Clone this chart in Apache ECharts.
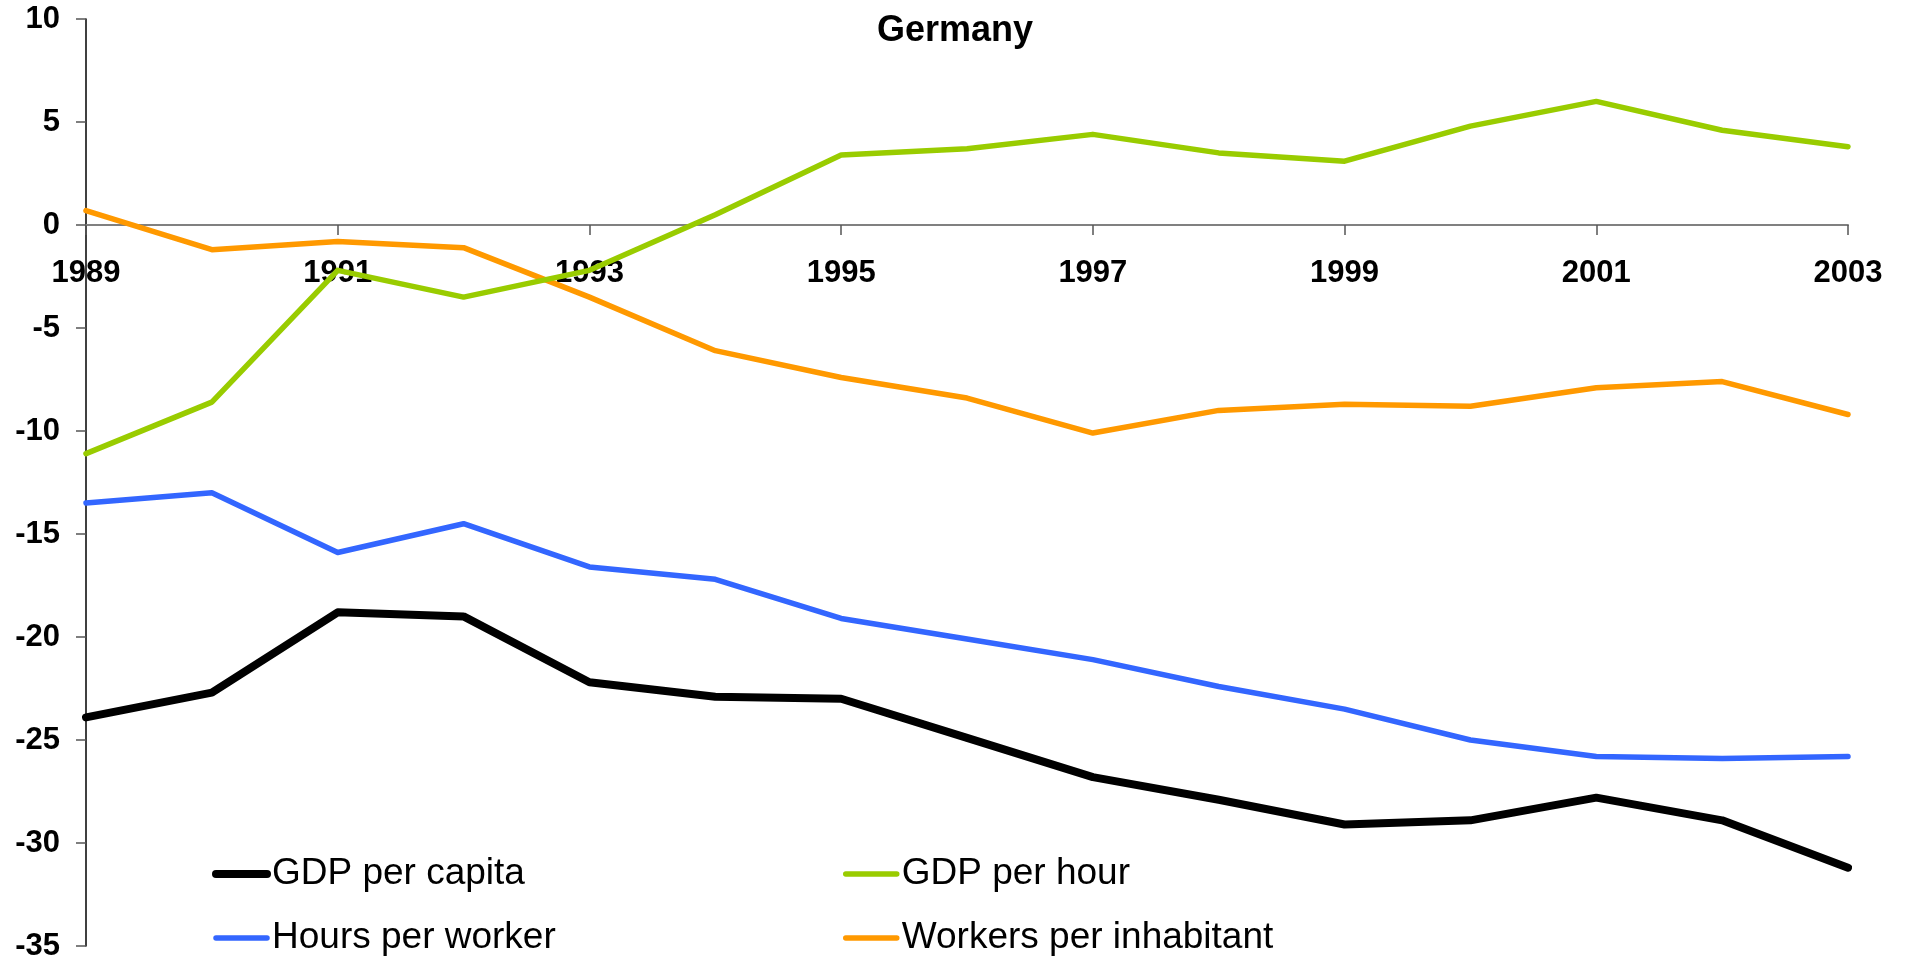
<!DOCTYPE html>
<html>
<head>
<meta charset="utf-8">
<title>Germany</title>
<script src="https://cdn.jsdelivr.net/npm/echarts@6/dist/echarts.min.js"></script>
<style>
  html, body { margin: 0; padding: 0; background: #fff; }
  #main { width: 1910px; height: 963px; }
</style>
</head>
<body>
<div id="main"></div>
<script>
var years = ['1989', '1990', '1991', '1992', '1993', '1994', '1995', '1996',
             '1997', '1998', '1999', '2000', '2001', '2002', '2003'];

var gdpPerCapita = [-23.9, -22.7, -18.8, -19.0, -22.2, -22.9, -23.0, -24.9,
                    -26.8, -27.9, -29.1, -28.9, -27.8, -28.9, -31.2];
var gdpPerHour = [-11.1, -8.6, -2.2, -3.5, -2.2, 0.5, 3.4, 3.7,
                  4.4, 3.5, 3.1, 4.8, 6.0, 4.6, 3.8];
var hoursPerWorker = [-13.5, -13.0, -15.9, -14.5, -16.6, -17.2, -19.1, -20.1,
                      -21.1, -22.4, -23.5, -25.0, -25.8, -25.9, -25.8];
var workersPerInhabitant = [0.7, -1.2, -0.8, -1.1, -3.5, -6.1, -7.4, -8.4,
                            -10.1, -9.0, -8.7, -8.8, -7.9, -7.6, -9.2];

var yTicks = { min: -35, max: 10, step: 5 };

var chartHeight = 963;
var grid = { left: 86, right: 62, top: 19, bottom: 17 };
// the x axis sits on the zero line, labels included
var plotHeight = chartHeight - grid.top - grid.bottom;
var zeroOffset = -plotHeight * (0 - yTicks.min) / (yTicks.max - yTicks.min);

var myChart = echarts.init(document.getElementById('main'));

function line(name, data, color, width) {
    return {
        name: name,
        type: 'line',
        data: data,
        symbol: 'none',
        z: 5,
        lineStyle: { color: color, width: width, join: 'round', cap: 'round' },
        itemStyle: { color: color }
    };
}

function legendBlock(names, left) {
    return {
        data: names,
        orient: 'vertical',
        left: left,
        top: 854,
        padding: 0,
        itemWidth: 51,
        itemHeight: 14,
        itemGap: 24,
        itemStyle: { opacity: 0 },
        lineStyle: { width: 'inherit', cap: 'round' },
        textStyle: { fontFamily: 'Liberation Sans', fontSize: 37, color: '#000', lineHeight: 40 }
    };
}

myChart.setOption({
    animation: false,
    title: {
        text: 'Germany',
        left: 'center',
        top: 8,
        textStyle: { fontFamily: 'Liberation Sans', fontWeight: 'bold', fontSize: 36, color: '#000' }
    },
    grid: {
        left: grid.left, right: grid.right, top: grid.top, bottom: grid.bottom,
        containLabel: false,
        outerBoundsMode: 'none'
    },
    legend: [
        legendBlock(['GDP per capita', 'Hours per worker'], 212),
        legendBlock(['GDP per hour', 'Workers per inhabitant'], 843)
    ],
    xAxis: {
        type: 'category',
        data: years,
        boundaryGap: false,
        offset: zeroOffset,
        axisLine: { onZero: false, lineStyle: { color: '#808080', width: 2 } },
        axisTick: { show: true, interval: 1, length: 10, lineStyle: { color: '#555', width: 1.5 } },
        axisLabel: {
            interval: 1,
            margin: 33,
            fontFamily: 'Liberation Sans',
            fontWeight: 'bold',
            fontSize: 31,
            color: '#000'
        },
        splitLine: { show: false }
    },
    yAxis: {
        type: 'value',
        min: yTicks.min,
        max: yTicks.max,
        interval: yTicks.step,
        axisLine: { show: true, onZero: false, lineStyle: { color: '#000', width: 1.5 } },
        axisTick: { show: true, length: 10, lineStyle: { color: '#555', width: 1.5 } },
        axisLabel: {
            margin: 26,
            fontFamily: 'Liberation Sans',
            fontWeight: 'bold',
            fontSize: 31,
            color: '#000'
        },
        splitLine: { show: false }
    },
    series: [
        line('Workers per inhabitant', workersPerInhabitant, '#FF9900', 5.5),
        line('GDP per hour', gdpPerHour, '#99CC00', 5.5),
        line('Hours per worker', hoursPerWorker, '#3366FF', 5.5),
        line('GDP per capita', gdpPerCapita, '#000000', 8)
    ]
});
</script>
</body>
</html>
